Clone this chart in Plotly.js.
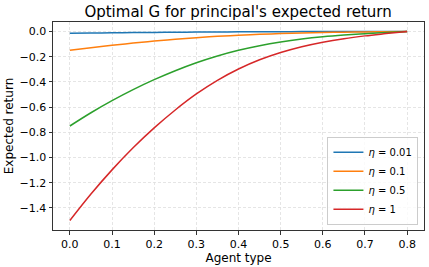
<!DOCTYPE html>
<html><head><meta charset="utf-8">
<script src="https://cdn.plot.ly/plotly-3.0.1.min.js"></script>
<style>html,body{margin:0;padding:0;background:#fff}#chart{width:429px;height:267px}</style>
</head><body><div id="chart"></div>
<script>
const agentType = [0, 0.05, 0.1, 0.15, 0.2, 0.25, 0.3, 0.35, 0.4, 0.45, 0.5, 0.55, 0.6, 0.65, 0.7, 0.75, 0.8];
const eta001 = [-0.015, -0.0129, -0.011, -0.0092, -0.0077, -0.0062, -0.005, -0.0039, -0.003, -0.0023, -0.0017, -0.0012, -0.0009, -0.0006, -0.00035, -0.00017, 0];
const eta01 = [-0.15, -0.129, -0.1098, -0.0923, -0.0765, -0.0623, -0.0496, -0.0388, -0.0298, -0.0225, -0.0167, -0.0121, -0.0085, -0.0057, -0.0035, -0.0017, 0];
const eta05 = [-0.75, -0.645, -0.549, -0.4615, -0.3825, -0.3115, -0.248, -0.194, -0.149, -0.1125, -0.0835, -0.0605, -0.0425, -0.0285, -0.0175, -0.0085, 0];
const eta1 = [-1.5, -1.29, -1.098, -0.923, -0.765, -0.623, -0.496, -0.388, -0.298, -0.225, -0.167, -0.121, -0.085, -0.057, -0.035, -0.017, 0];
const seriesNames = ['<i>η</i> = 0.01', '<i>η</i> = 0.1', '<i>η</i> = 0.5', '<i>η</i> = 1'];
const seriesData = [eta001, eta01, eta05, eta1];
const colors = ['#1f77b4', '#ff7f0e', '#2ca02c', '#d62728'];
const xTicks = [0, 0.1, 0.2, 0.3, 0.4, 0.5, 0.6, 0.7, 0.8];
const yTicks = [0, -0.2, -0.4, -0.6, -0.8, -1.0, -1.2, -1.4];

const traces = seriesData.map((d, i) => ({
  x: agentType, y: d, type: 'scatter', mode: 'lines', name: seriesNames[i],
  line: {color: colors[i], width: 1.5, shape: 'spline', smoothing: 1}
}));
const axisCommon = {
  showline: true, mirror: true, linecolor: '#333', linewidth: 1,
  ticks: 'outside', ticklen: 3.5, tickcolor: '#333', tickwidth: 1,
  showgrid: true, gridcolor: '#dedede', griddash: '3px,2px', gridwidth: 0.8,
  zeroline: false, tickfont: {family: 'DejaVu Sans', size: 11, color: '#000'}
};
const layout = {
  width: 429, height: 267,
  margin: {l: 53, r: 5, t: 22, b: 37},
  paper_bgcolor: '#fff', plot_bgcolor: '#fff',
  font: {family: 'DejaVu Sans', color: '#000'},
  title: {text: "Optimal G for principal's expected return", font: {family: 'DejaVu Sans', size: 15, color: '#000'},
          x: 0.555, xanchor: 'center', y: 0.955, yanchor: 'middle'},
  xaxis: Object.assign({}, axisCommon, {range: [-0.04, 0.84], tickvals: xTicks,
    ticktext: xTicks.map(v => v.toFixed(1)),
    title: {text: 'Agent type', font: {family: 'DejaVu Sans', size: 12, color: '#000'}, standoff: 1}}),
  yaxis: Object.assign({}, axisCommon, {range: [-1.575, 0.075], tickvals: yTicks,
    ticktext: yTicks.map(v => (v < 0 ? '\u2212' + Math.abs(v).toFixed(1) : v.toFixed(1))),
    title: {text: 'Expected return', font: {family: 'DejaVu Sans', size: 12, color: '#000'}, standoff: 3}}),
  legend: {x: 0.985, y: 0.025, xanchor: 'right', yanchor: 'bottom',
    bgcolor: 'rgba(255,255,255,0.8)', bordercolor: '#cccccc', borderwidth: 1,
    font: {family: 'DejaVu Sans', size: 10, color: '#000'}, tracegroupgap: 0, itemwidth: 30},
  showlegend: true
};
Plotly.newPlot('chart', traces, layout, {staticPlot: true, displayModeBar: false});
</script>
</body></html>
